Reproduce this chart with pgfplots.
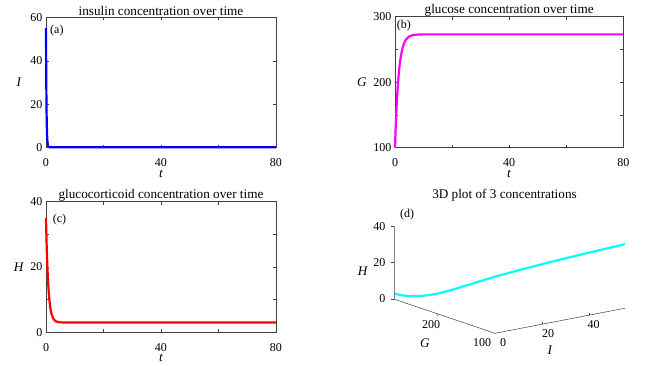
\documentclass[border=0pt]{standalone}
\usepackage{pgfplots}
\pgfplotsset{compat=1.18}
\usepackage{pgfplotstable}
\usepackage{fontspec}
\setmainfont{Liberation Serif}

\pgfplotstableread{
t     I     G      H
0     55.0  100.0  35.0
0.05  40.8  106.8  33.0
0.1   30.3  113.3  31.1
0.15  22.5  119.6  29.3
0.2   16.7  125.6  27.7
0.25  12.4  131.4  26.1
0.3   9.26  136.9  24.7
0.4   5.17  147.4  22.0
0.5   2.93  157.0  19.7
0.6   1.70  165.9  17.7
0.7   1.02  174.2  15.9
0.8   0.65  181.8  14.3
1.0   0.34  195.3  11.7
1.2   0.24  206.8  9.72
1.4   0.21  216.5  8.18
1.6   0.20  224.9  7.00
1.8   0.20  232.0  6.08
2.0   0.20  238.1  5.38
2.5   0.20  249.6  4.24
3.0   0.20  257.3  3.65
3.5   0.20  262.5  3.34
4.0   0.20  265.9  3.18
5.0   0.20  269.8  3.05
6.0   0.20  271.6  3.01
7.0   0.20  272.4  3.00
8.0   0.20  272.7  3.00
10    0.20  273.0  3.00
20    0.20  273.0  3.00
30    0.20  273.0  3.00
40    0.20  273.0  3.00
50    0.20  273.0  3.00
60    0.20  273.0  3.00
70    0.20  273.0  3.00
80    0.20  273.0  3.00
}\data

\definecolor{axgray}{gray}{0.25}
\definecolor{cI}{RGB}{0,0,255}
\definecolor{cG}{RGB}{255,0,255}
\definecolor{cH}{RGB}{255,0,0}
\definecolor{c3}{RGB}{0,255,255}
\newcommand{\tf}{\fontsize{12}{14}\selectfont}
\newcommand{\lf}{\fontsize{13.2}{15}\selectfont}

\pgfplotsset{
  panel/.style={
    scale only axis, width=230pt, height=130.4pt,
    xmin=0, xmax=80, xtick={0,20,40,60,80}, xticklabels={0,,40,,80},
    axis line style={axgray}, tick style={axgray, line width=0.4pt},
    major tick length=3pt, tick align=inside,
    ticklabel style={font=\tf},
    xticklabel style={anchor=center, yshift=-15pt, inner sep=0.5pt},
    title style={font=\lf, at={(axis description cs:0.5,1)}, anchor=center, yshift=0pt},
    label style={font=\lf},
    xlabel={\textit{t}},
    xlabel style={at={(axis description cs:0.5,0)}, anchor=center, yshift=-26pt, inner sep=0.5pt},
    ylabel style={rotate=-90, at={(axis description cs:0,0.5)}, anchor=center, xshift=-27pt},
    clip=false,
  }
}

\begin{document}
\begin{tikzpicture}
\useasboundingbox (0,0) rectangle (648pt,366pt);

% (a)
\begin{axis}[panel, at={(46pt,218.3pt)}, anchor=south west,
  title={insulin concentration over time},
  ymin=0, ymax=60, ytick={0,20,40,60}, yticklabels={0,20,40,60},
  ylabel={\textit{I}}]
\addplot[cI, line width=2.2pt] table[x=t,y=I]{\data};
\end{axis}

% (b)
\begin{axis}[panel, width=228.3pt, height=131pt, at={(395pt,218.3pt)}, anchor=south west,
  title={glucose concentration over time},
  ymin=100, ymax=300, ytick={100,150,200,250,300}, yticklabels={100,,200,,300},
  ylabel={\textit{G}}, ylabel style={xshift=-6pt}]
\addplot[cG, line width=2.2pt] table[x=t,y=G]{\data};
\end{axis}

% (c)
\begin{axis}[panel, height=130.6pt, at={(46pt,33.7pt)}, anchor=south west,
  title={glucocorticoid concentration over time},
  ymin=0, ymax=40, ytick={0,10,20,30,40}, yticklabels={0,,20,,40},
  ylabel={\textit{H}}]
\addplot[cH, line width=2.2pt] table[x=t,y=H]{\data};
\end{axis}

% (d)
\begin{axis}[at={(495pt,32.7pt)}, anchor=origin,
  x={(2.36pt,0.455pt)}, y={(-0.582pt,0.197pt)}, z={(0pt,1.83pt)},
  xmin=0, xmax=55, ymin=100, ymax=273, zmin=0, zmax=40,
  hide axis, clip=false]
\addplot3[c3, line width=2.2pt] table[x=I,y=G,z=H]{\data};
\draw[axgray, line width=0.5pt] (axis cs:55,100,0) -- (axis cs:0,100,0) -- (axis cs:0,273,0) -- (axis cs:0,273,40);
\draw[axgray, line width=0.4pt] (axis cs:0,273,0) -- ++(-3pt,0pt);
\draw[axgray, line width=0.4pt] (axis cs:0,273,20) -- ++(-3pt,0pt);
\draw[axgray, line width=0.4pt] (axis cs:0,273,40) -- ++(-3pt,0pt);
\draw[axgray, line width=0.4pt] (axis cs:0,200,0) -- ++(0.8pt,-2.5pt);
\draw[axgray, line width=0.4pt] (axis cs:20,100,0) -- ++(0pt,2.5pt);
\draw[axgray, line width=0.4pt] (axis cs:40,100,0) -- ++(0pt,2.5pt);
\end{axis}

\node[font=\tf, anchor=east] at (389pt,139pt) {40};
\node[font=\tf, anchor=east] at (389pt,103pt) {20};
\node[font=\tf, anchor=east] at (389pt,67pt) {0};
\node[font=\tf] at (431pt,41pt) {200};
\node[font=\tf] at (482pt,23pt) {100};
\node[font=\tf] at (503pt,23pt) {0};
\node[font=\tf] at (548pt,32pt) {20};
\node[font=\tf] at (593.5pt,41pt) {40};
\node[font=\lf] at (425pt,23pt) {\textit{G}};
\node[font=\lf] at (550pt,16pt) {\textit{I}};
\node[font=\lf] at (363pt,95pt) {\textit{H}};
\node[font=\lf] at (504.5pt,171pt) {3D plot of 3 concentrations};

\node[font=\tf, anchor=west, inner sep=0pt] at (50pt,335.3pt) {(a)};
\node[font=\tf, anchor=west, inner sep=0pt] at (396.7pt,340pt) {(b)};
\node[font=\tf, anchor=west, inner sep=0pt] at (52.7pt,146pt) {(c)};
\node[font=\tf, anchor=west, inner sep=0pt] at (400pt,151pt) {(d)};
\end{tikzpicture}
\end{document}
